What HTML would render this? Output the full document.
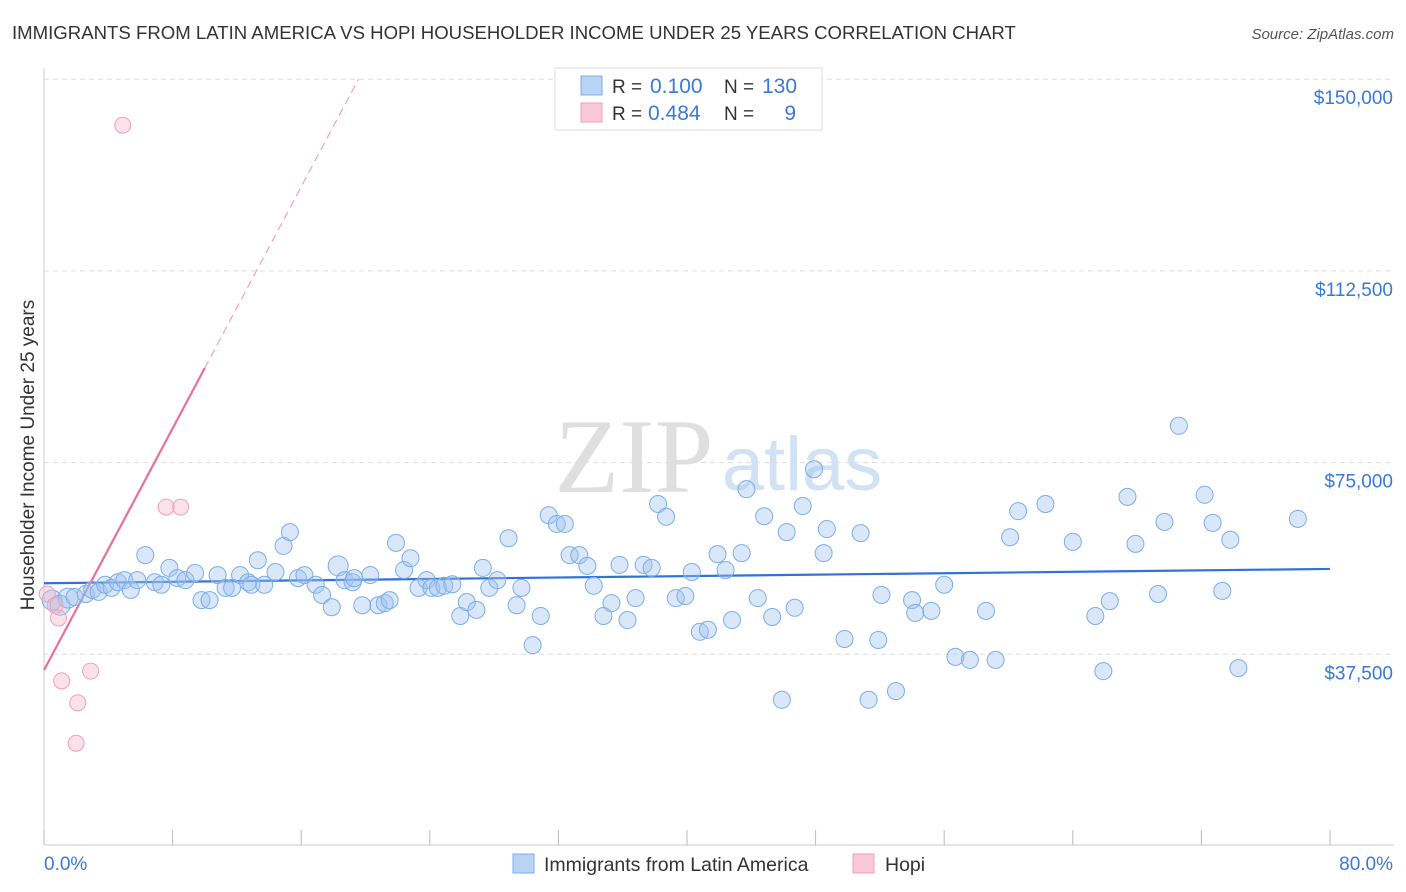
<!DOCTYPE html>
<html><head><meta charset="utf-8">
<style>
body{margin:0;background:#fff;font-family:"Liberation Sans",sans-serif;}
svg{display:block}
</style></head>
<body>
<svg id="chart" width="1406" height="892" xmlns="http://www.w3.org/2000/svg">
<text x="12" y="39" font-size="18.6" fill="#333">IMMIGRANTS FROM LATIN AMERICA VS HOPI HOUSEHOLDER INCOME UNDER 25 YEARS CORRELATION CHART</text>
<text x="1394" y="39" font-size="15" fill="#555" text-anchor="end" font-style="italic">Source: ZipAtlas.com</text>
<g>
<text x="634" y="492" font-size="106" fill="#d8d8d8" font-family="Liberation Serif,serif" text-anchor="middle" opacity="0.8">ZIP</text>
<text x="802" y="490" font-size="76" fill="#c6dcf2" text-anchor="middle" opacity="0.8">atlas</text>
</g>
<g id="grid"></g>
<g id="axes"></g>
<g id="lines"></g>
<g id="pts"></g>
<text transform="translate(34,455) rotate(-90)" font-size="19" fill="#333" text-anchor="middle">Householder Income Under 25 years</text>
<g>
<rect x="555" y="68" width="267" height="62" fill="#fff" stroke="#ddd"/>
<rect x="581" y="76" width="21" height="19" fill="#b8d3f4" stroke="#7aaee8"/>
<rect x="581" y="103" width="21" height="19" fill="#f9c8d8" stroke="#f0a0b8"/>
<text x="612" y="93" font-size="19" fill="#333">R = </text><text x="650" y="93" font-size="21" fill="#3a78d8">0.100</text>
<text x="724" y="93" font-size="19" fill="#333">N = </text><text x="762" y="93" font-size="21" fill="#3a78d8">130</text>
<text x="612" y="120" font-size="19" fill="#333">R = </text><text x="648" y="120" font-size="21" fill="#3a78d8">0.484</text>
<text x="724" y="120" font-size="19" fill="#333">N = </text><text x="796" y="120" font-size="21" fill="#3a78d8" text-anchor="end">9</text>
</g>
<g>
<rect x="513" y="854" width="21" height="19" fill="#b8d3f4" stroke="#7aaee8"/>
<text x="544" y="871" font-size="19.5" fill="#333">Immigrants from Latin America</text>
<rect x="853" y="854" width="21" height="19" fill="#f9c8d8" stroke="#f0a0b8"/>
<text x="885" y="871" font-size="19.5" fill="#333">Hopi</text>
</g>
</svg>
<script>
const yTicks=[37500,75000,112500,150000];
const yTickLabels=["$37,500","$75,000","$112,500","$150,000"];
const xTicks=[0,8,16,24,32,40,48,56,64,72,80];
const xEndLabels=["0.0%","80.0%"];
const blueX=[0.5,1.0,1.5,1.9,2.6,3.0,3.4,3.8,4.2,4.6,5.0,5.4,5.8,6.3,6.9,7.3,7.8,8.3,8.8,9.4,9.8,10.3,10.8,11.3,11.7,12.2,12.7,12.9,13.3,13.7,14.4,14.9,15.3,15.8,16.2,16.9,17.3,17.9,18.3,18.7,19.2,19.3,19.8,20.3,20.8,21.2,21.5,21.9,22.4,22.8,23.3,23.8,24.1,24.5,24.9,25.4,25.9,26.3,26.9,27.3,27.7,28.2,28.9,29.4,29.7,30.4,30.9,31.4,31.9,32.4,32.7,33.3,33.8,34.2,34.8,35.3,35.8,36.3,36.8,37.3,37.8,38.2,38.7,39.3,39.9,40.3,40.8,41.3,41.9,42.4,42.8,43.4,43.7,44.4,44.8,45.3,45.9,46.2,46.7,47.2,47.9,48.5,48.7,49.8,50.8,51.3,51.9,52.1,53.0,54.0,54.2,55.2,56.0,56.7,57.6,58.6,59.2,60.1,60.6,62.3,64.0,65.4,65.9,66.3,67.4,67.9,69.3,69.7,70.6,72.2,72.7,73.3,73.8,74.3,78.0];
const blueY=[48.1,47.1,48.5,48.7,49.3,50.1,49.7,51.1,50.5,51.6,52.0,50.1,52.0,56.9,51.6,51.1,54.4,52.4,52.0,53.4,48.1,48.1,53.0,50.5,50.5,53.0,51.6,51.1,55.9,51.1,53.6,58.7,61.4,52.4,53.0,51.1,49.1,46.7,54.8,52.0,51.6,52.4,47.1,53.0,47.1,47.5,48.1,59.3,54.0,56.3,50.5,52.0,50.5,50.5,50.9,51.2,45.0,47.7,46.2,54.4,50.5,52.0,60.2,47.1,50.5,39.3,45.0,64.7,63.0,63.0,56.9,56.9,54.8,50.9,45.0,47.5,55.0,44.2,48.5,55.0,54.4,66.9,64.4,48.5,48.9,53.6,41.9,42.3,57.1,54.0,44.2,57.3,69.8,48.5,64.5,44.8,28.6,61.4,46.6,66.5,73.7,57.3,62.0,40.5,61.2,28.6,40.3,49.1,30.3,48.1,45.6,46.0,51.1,37.0,36.4,46.0,36.4,60.4,65.5,66.9,59.5,45.0,34.2,47.9,68.3,59.1,49.3,63.4,82.2,68.7,63.2,49.9,59.9,34.8,64.0];
const pinkX=[0.2,0.7,0.9,1.1,2.1,2.0,2.9,4.9,7.6,8.5];
const pinkY=[49.3,47.1,44.6,32.3,28.0,20.1,34.2,141.0,66.3,66.3];
const blueTrend=[51.4,54.2];
const pinkTrend=[34.4,5.91];

const X0=44,X1=1330,YB=846;
const sx=v=>X0+(v/80)*(X1-X0);
const sy=v=>YB-(v/37500)*191.7;
const syk=v=>sy(v*1000);
const NS="http://www.w3.org/2000/svg";
function mk(parent,tag,attrs){const e=document.createElementNS(NS,tag);for(const k in attrs)e.setAttribute(k,attrs[k]);document.getElementById(parent).appendChild(e);return e;}

yTicks.forEach((t,i)=>{
  const l=mk('grid','line',{x1:44,x2:1394,y1:sy(t),y2:sy(t),stroke:'#ddd','stroke-dasharray':'5,4'});
  
  
  const tx=mk('grid','text',{x:1393,y:sy(t)+25,'font-size':19,fill:'#3a78d8','text-anchor':'end'});
  tx.textContent=yTickLabels[i];
  
  
});
const ax=mk('axes','line',{x1:44,x2:1394,y1:845,y2:845,stroke:'#ccc'});


const ay=mk('axes','line',{x1:44,x2:44,y1:68,y2:845,stroke:'#ccc'});


xTicks.forEach(t=>{
  const l=mk('axes','line',{x1:sx(t),x2:sx(t),y1:830,y2:845,stroke:'#bbb'});
  
  
});
const xl0=mk('axes','text',{x:44,y:870,'font-size':19,fill:'#3a78d8'});xl0.textContent=xEndLabels[0];


const xl1=mk('axes','text',{x:1393,y:870,'font-size':19,fill:'#3a78d8','text-anchor':'end'});xl1.textContent=xEndLabels[1];



blueX.forEach((x,i)=>{
  const c=mk('pts','circle',{cx:sx(x),cy:syk(blueY[i]),r:(i<3||i==38)?10:8.5,fill:'rgba(160,196,240,0.4)',stroke:'#7aaee8','stroke-width':1});
  
  
});
pinkX.forEach((x,i)=>{
  const c=mk('pts','circle',{cx:sx(x),cy:syk(pinkY[i]),r:8,fill:'rgba(245,180,200,0.4)',stroke:'#f0a0b8','stroke-width':1});
  
  
});
const bl=mk('lines','line',{x1:sx(0),y1:syk(blueTrend[0]),x2:sx(80),y2:syk(blueTrend[1]),stroke:'#2f72d8','stroke-width':2.2});


const pEnd=10, pMax=(150-pinkTrend[0])/pinkTrend[1];
const pl=mk('lines','line',{x1:sx(0),y1:syk(pinkTrend[0]),x2:sx(pEnd),y2:syk(pinkTrend[0]+pinkTrend[1]*pEnd),stroke:'#e8709a','stroke-width':2.2});


const pd=mk('lines','line',{x1:sx(pEnd),y1:syk(pinkTrend[0]+pinkTrend[1]*pEnd),x2:sx(pMax),y2:syk(150),stroke:'#f0a0b8','stroke-width':1.2,'stroke-dasharray':'8,5'});


</script>
</body></html>
